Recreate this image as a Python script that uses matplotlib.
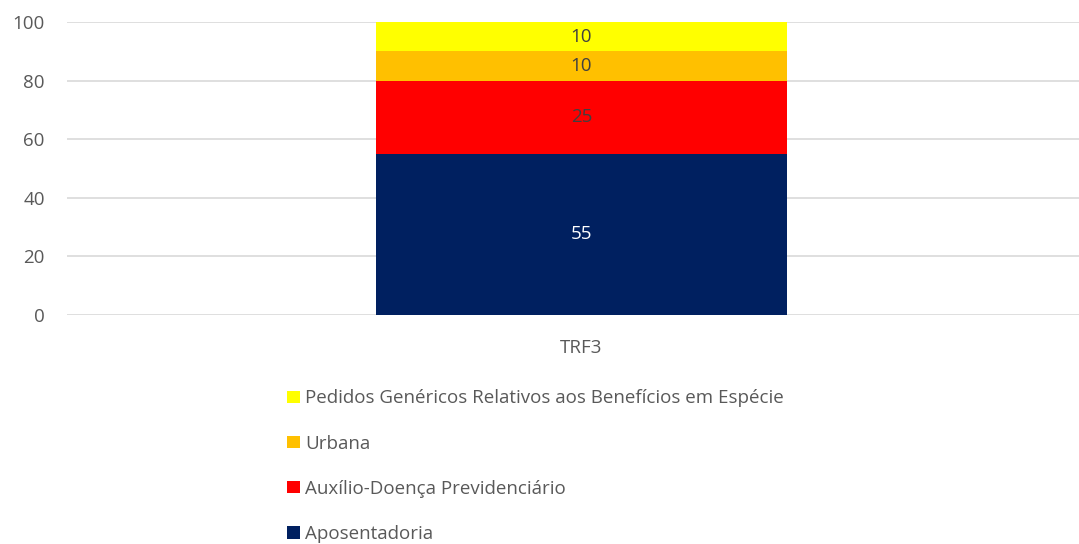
import matplotlib.pyplot as plt
from matplotlib.patches import Patch

plt.rcParams['font.family'] = ['Open Sans', 'DejaVu Sans']

categories = ['TRF3']
series_names = ['Aposentadoria', 'Auxílio-Doença Previdenciário', 'Urbana',
                'Pedidos Genéricos Relativos aos Benefícios em Espécie']
series_values = [[55], [25], [10], [10]]
series_colors = ['#002060', '#FF0000', '#FFC000', '#FFFF00']
label_colors = ['white', '#404040', '#404040', '#404040']

fig = plt.figure(figsize=(10.79, 5.44), dpi=100)
ax = fig.add_axes([67 / 1079, 1 - 315 / 544, 1029 / 1079, 293 / 544])

bottom = [0] * len(categories)
handles = []
for name, vals, col, lcol in zip(series_names, series_values, series_colors, label_colors):
    bars = ax.bar(categories, vals, width=0.4, bottom=bottom, color=col, zorder=3)
    ax.bar_label(bars, labels=[str(v) for v in vals], label_type='center',
                 color=lcol, fontsize=13.5)
    bottom = [b + v for b, v in zip(bottom, vals)]
    handles.append(Patch(facecolor=col, label=name))

ax.set_xlim(-0.5, 0.5)
ax.set_ylim(0, 100)
ax.set_yticks(range(0, 101, 20))
ax.grid(axis='y', color='#D9D9D9', linewidth=1.2, zorder=0)
for s in ax.spines.values():
    s.set_visible(False)
ax.tick_params(length=0, labelsize=13.5, labelcolor='#595959')
ax.tick_params(axis='y', pad=16)
ax.tick_params(axis='x', pad=17)

fig.legend(handles=handles[::-1], loc='upper left', bbox_to_anchor=(278 / 1079, 1 - 380 / 544),
           frameon=False, fontsize=13.5, labelcolor='#595959', handlelength=0.65,
           handleheight=0.65, handletextpad=0.3, labelspacing=1.45, borderpad=0)

fig.savefig('out.png', dpi=100)
